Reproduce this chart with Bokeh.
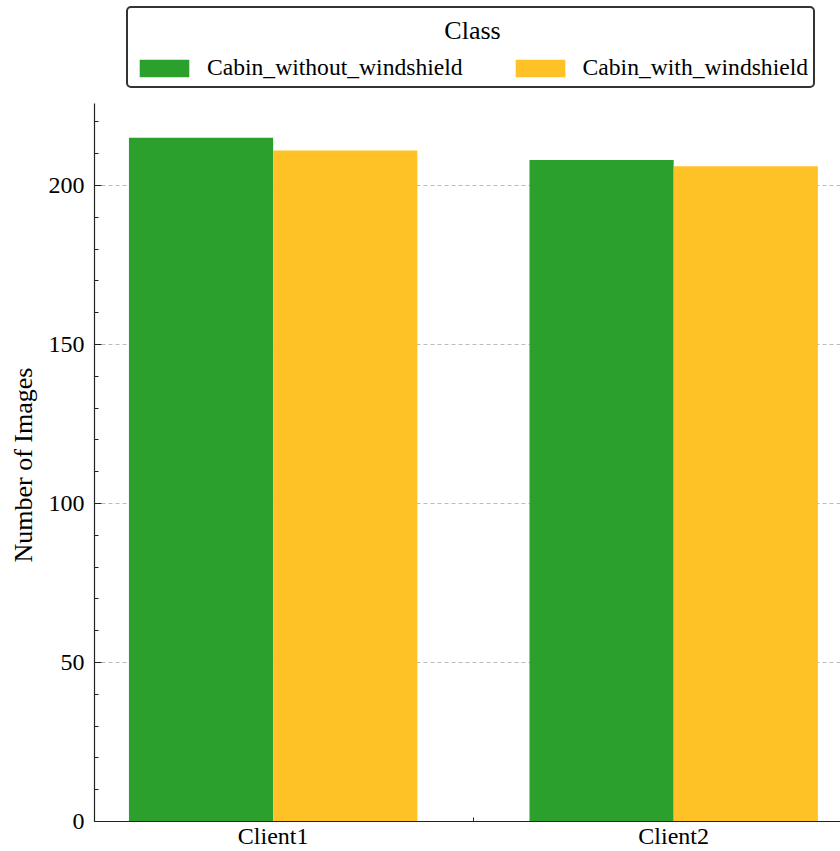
from bokeh.plotting import figure
from bokeh.models import (ColumnDataSource, Range1d, SingleIntervalTicker, FixedTicker,
                          Legend, LegendItem, Label, Title)
from bokeh.transform import dodge
from bokeh.embed import file_html
from bokeh.resources import INLINE

# ---- data ----
clients = ["Client1", "Client2"]
cabin_without_windshield = [215, 208]
cabin_with_windshield = [211, 206]
series_labels = ["Cabin_without_windshield", "Cabin_with_windshield"]
legend_title = "Class"
y_label = "Number of Images"

colors = ["#2ca02c", "#ffc226"]
FONT = "Liberation Serif"

xpos = list(range(len(clients)))
source = ColumnDataSource(dict(x=xpos, a=cabin_without_windshield, b=cabin_with_windshield))

bw = 0.36
y_top = 225.75          # top of the visible axis
y_frame_top = y_top * 821 / 718  # frame extends up to hold the legend
p = figure(width=840, height=851, output_backend="svg", toolbar_location=None,
           x_range=Range1d(-0.446, 1.4165), y_range=Range1d(0, y_frame_top),
           min_border_left=94, min_border_right=0, min_border_top=0, min_border_bottom=30)
p.outline_line_color = None
p.background_fill_color = "white"
p.border_fill_color = "white"

r1 = p.vbar(x=dodge("x", -bw / 2), top="a", width=bw, source=source,
            fill_color=colors[0], line_color=None)
r2 = p.vbar(x=dodge("x", bw / 2), top="b", width=bw, source=source,
            fill_color=colors[1], line_color=None)

# axes
yax = p.yaxis[0]
yax.bounds = (0, y_top)
yax.ticker = SingleIntervalTicker(interval=50, num_minor_ticks=5)
yax.major_tick_in = 7
yax.major_tick_out = 0
yax.minor_tick_in = 4
yax.minor_tick_out = 0
yax.axis_line_color = "#222222"
yax.axis_line_width = 1.2
yax.major_tick_line_color = "#222222"
yax.minor_tick_line_color = "#222222"
yax.major_label_text_font = FONT
yax.major_label_text_font_size = "24px"
yax.major_label_text_color = "black"
yax.major_label_standoff = 10

xax = p.xaxis[0]
xax.ticker = FixedTicker(ticks=xpos, minor_ticks=[0.5])
xax.major_label_overrides = {i: c for i, c in zip(xpos, clients)}
xax.major_tick_in = 0
xax.major_tick_out = 0
xax.minor_tick_in = 4
xax.minor_tick_out = 0
xax.axis_line_color = "#222222"
xax.axis_line_width = 1.2
xax.minor_tick_line_color = "#222222"
xax.major_label_text_font = FONT
xax.major_label_text_font_size = "24px"
xax.major_label_text_color = "black"
xax.major_label_standoff = 1

p.xgrid.grid_line_color = None
p.ygrid.bounds = (0, y_top)
p.ygrid.grid_line_color = "#bbbbbb"
p.ygrid.grid_line_dash = "4 3"
p.ygrid.grid_line_width = 1

# y-axis title, placed to be centred on the visible axis part
p.add_layout(Title(text=y_label, align="left", offset=259, vertical_align="middle",
                   text_font=FONT, text_font_size="26px", text_font_style="normal",
                   text_color="black", standoff=13), "left")

legend = Legend(items=[LegendItem(label=series_labels[0], renderers=[r1]),
                       LegendItem(label=series_labels[1], renderers=[r2])],
                orientation="horizontal", location=(32, 733),
                title=" ", title_text_font=FONT, title_text_font_size="26px",
                title_text_font_style="normal", title_standoff=11,
                glyph_width=62, glyph_height=22, label_standoff=12, spacing=46,
                padding=5, margin=0,
                label_text_font=FONT, label_text_font_size="23.6px", label_text_color="black",
                border_line_color="#333333", border_line_width=2, border_line_alpha=1.0,
                background_fill_alpha=0.0)
try:
    legend.border_radius = 5
except Exception:
    pass
p.add_layout(legend, "center")

title_lbl = Label(x=378, y=791, x_units="screen", y_units="screen", text=legend_title,
                  text_font=FONT, text_font_size="26px", text_align="center",
                  text_baseline="middle", text_color="black")
p.add_layout(title_lbl)

open("out.html", "w").write(file_html(p, INLINE))
